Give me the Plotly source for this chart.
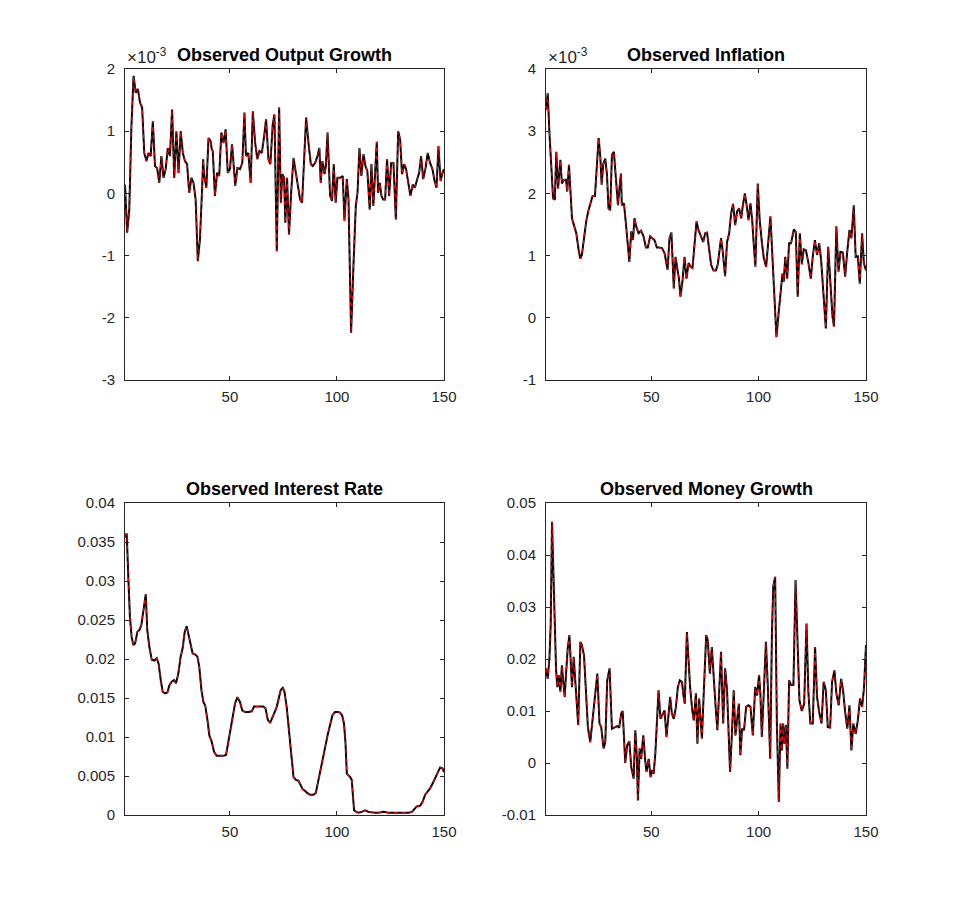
import plotly.graph_objects as go

# values; x is the period (1..150)

# Observed Output Growth, in units of 1e-3
output_x = [1, 1.5, 2, 3, 4, 5, 6, 7, 8, 9,
            10, 11, 12, 13, 14, 15, 16, 17, 18, 19, 20,
            21, 22, 23, 24, 25, 26, 27, 28, 29, 30,
            31, 32, 33, 34, 35, 36, 37, 37.5, 38, 39, 40, 41, 41.5,
            42, 43, 44, 45, 46, 47, 48, 49,
            50, 51, 52.5, 53.5, 54.7, 55.8, 56.8, 57.5, 58.6, 59.7,
            60.7, 61.8, 62.8, 63.8, 64.9, 66, 66.9, 68, 68.9, 70,
            70.8, 71.9, 73, 73.8, 74.5, 75.3, 75.9, 76.7, 77.6, 78.6,
            79.7, 80.8, 81.7, 82.8, 83.7, 84.6, 85.6, 86.7, 87.8, 88.7,
            89.8, 90.9, 91.8, 92.4, 93.2, 94.2, 94.8, 95.6, 96.2, 96.8,
            97.7, 98.5, 99.4, 100.2,
            101.5, 102.7, 103.5, 104.6, 105.4, 106.6, 107.7, 108.8, 109.6, 110.5,
            111.4, 112.4, 113.3, 114.2, 115.3, 116.1, 117, 117.8, 118.6, 119.2,
            120, 120.8, 121.6, 122.5, 123.4, 124.4, 125.3, 126.4, 127.5, 128.6,
            129.5, 130.4, 131.4, 132.3, 133.4, 134.3, 135.4, 136.4, 137.5, 138.4,
            139.3, 140.3, 141.4, 142.4, 143.5, 144.6, 145.6, 146.5, 147.4, 148.4,
            149.3, 150]
output_y = [0.14, -0.31, -0.63, -0.26, 1.08, 1.89, 1.62, 1.68, 1.46, 1.38,
            0.65, 0.52, 0.65, 0.60, 1.16, 0.44, 0.41, 0.17, 0.60, 0.25, 0.39,
            0.73, 0.60, 1.35, 0.25, 1.00, 0.33, 1.00, 0.65, 0.52, 0.47,
            0.01, 0.25, 0.17, -0.10, -1.09, -0.74, 0.06, 0.55, 0.28, 0.09, 0.89, 0.84, 0.71,
            0.68, -0.04, 0.33, 0.28, 0.98, 0.81, 1.03, 0.33,
            0.39, 0.79, 0.12, 0.41, 0.39, 0.49, 1.30, 0.60, 0.65, 0.17,
            1.32, 0.81, 0.55, 0.68, 0.65, 0.92, 1.19, 0.55, 0.47, 1.11,
            1.27, -0.93, 1.38, -0.15, 0.31, 0.25, -0.47, 0.25, -0.66, 0.01,
            0.57, 0.33, 0.12, -0.10, -0.15, 0.60, 1.22, 0.81, 0.47, 0.44,
            0.49, 0.60, 0.73, 0.17, 0.52, 0.31, 0.44, 0.98, 0.44, -0.04,
            -0.12, 0.47, -0.15, 0.25,
            0.25, 0.28, -0.44, 0.23, -0.10, -2.24, -1.17, -0.20, 0.01, 0.73,
            0.28, 0.63, 0.44, 0.36, -0.26, 0.47, -0.20, 0.23, 0.83, 0.01,
            0.17, -0.04, -0.10, -0.10, 0.55, -0.04, 0.49, 0.49, -0.42, 1.00,
            0.87, 0.31, 0.47, 0.39, 0.12, -0.04, 0.14, 0.09, 0.23, 0.33,
            0.60, 0.23, 0.41, 0.65, 0.49, 0.39, 0.20, 0.09, 0.76, 0.20,
            0.33, 0.39]

# Observed Inflation, in units of 1e-3
inflation_x = [1, 1.8, 2.6, 3.5, 4.3, 5.1, 5.8, 6.6, 7.7, 8.4,
               9.4, 10.3, 10.9, 11.7, 12.3, 13.1, 14, 15.1, 16.2, 17,
               17.7, 18.7, 19.8, 20.8, 21.8, 22.7, 23.8, 24.6, 25.5, 26.3,
               26.9, 27.7, 28.6, 29.4, 30.1, 30.9, 31.7, 32.6, 33.6, 34.5,
               35.1, 35.9, 36.3, 37.3, 38.2, 39, 39.8, 40.7, 41.5, 42.2,
               43, 44.1, 45.3, 46.4, 47.5, 48.4, 49.5,
               51.5, 52.6, 53.7, 55, 56.2, 57.6, 58.5, 59.4, 60.5, 61.3,
               62.1, 62.9, 63.6, 64.6, 65.5, 66.4, 67.4, 68.3, 69.2, 70.1,
               71.1, 72, 73.1, 74.2, 75.1, 76, 77, 77.9, 79, 80.1,
               81, 81.8, 82.5, 83.3, 84.4, 85.3, 86.3, 87.2, 88.1, 89.1,
               90, 90.9, 91.9, 92.6, 93.6, 94.5, 95.3, 96.2, 97, 97.7,
               98.5, 99.6, 100.5,
               101.5, 102.4, 103.5, 104.6, 105.5, 106.5, 107.4, 108.3, 109.3, 110.2,
               111.1, 111.7, 112.4, 113.3, 114.2, 115.1, 116.4, 117.3, 118.2, 119.2,
               120.1, 121, 122, 123.2, 124.3, 125.2, 126.2, 127.2, 128.2, 129.1,
               130.2, 131.3, 132.4, 133.4, 134.4, 135.1, 136.2, 137.2, 138.1, 139.2,
               140.3, 141.2, 142.3, 143.2, 144.3, 145.2, 146.2, 147.1, 148.2, 149,
               150]
inflation_y = [3.34, 3.61, 2.97, 2.38, 1.92, 1.90, 2.67, 2.08, 2.54, 2.16,
               2.22, 2.22, 2.03, 2.46, 2.11, 1.60, 1.49, 1.36, 1.09, 0.95,
               1.01, 1.31, 1.57, 1.73, 1.87, 1.96, 1.96, 2.38, 2.89, 2.59,
               2.14, 2.48, 2.56, 2.30, 1.76, 1.73, 2.62, 2.67, 2.22, 1.81,
               2.05, 2.32, 1.81, 1.84, 1.52, 1.25, 0.90, 1.39, 1.25, 1.60,
               1.47, 1.36, 1.40, 1.31, 1.13, 1.13, 1.31,
               1.25, 1.13, 1.13, 1.12, 1.04, 0.77, 1.28, 1.37, 0.47, 0.98,
               0.80, 0.63, 0.34, 0.61, 0.98, 0.63, 0.88, 0.82, 0.80, 1.22,
               1.55, 1.41, 1.30, 1.22, 1.36, 1.37, 1.09, 0.85, 0.76, 0.76,
               0.86, 1.09, 1.28, 1.06, 0.67, 1.22, 1.36, 1.68, 1.83, 1.49,
               1.71, 1.76, 1.60, 1.79, 2.00, 1.79, 1.57, 1.84, 1.57, 1.20,
               0.82, 2.16, 1.57,
               1.22, 0.96, 0.82, 1.36, 1.63, 0.93, 0.23, -0.31, 0.07, 0.45,
               0.71, 0.58, 0.98, 0.63, 1.20, 1.20, 1.42, 1.38, 0.34, 1.36,
               0.86, 1.10, 1.09, 0.88, 0.63, 0.98, 1.25, 1.01, 1.20, 0.93,
               0.39, -0.17, 1.14, 0.55, 0.02, -0.14, 1.47, 0.74, 1.06, 1.05,
               0.66, 1.04, 1.41, 1.28, 1.81, 0.98, 0.99, 0.55, 1.36, 0.88,
               0.76]

# Observed Interest Rate
interest_x = [1, 1.8, 2.6, 3.3, 4.1, 4.9, 5.7, 6.8, 7.7, 8.6,
              9.6, 10.7, 11.4, 12.4, 13.5, 14.7, 15.8, 16.7, 17.7, 18.6,
              19.7, 20.8, 21.7, 22.8, 23.9, 24.8, 25.9, 27, 28, 28.9,
              29.8, 30.8, 31.7, 32.6, 33.7, 34.8, 35.7, 36.7, 37.6, 38.5,
              39.5, 40.4, 41.5, 42.6, 43.8, 45.4, 47, 48.2, 49.3,
              50.4, 51.3, 52.4, 53.5, 54.7, 55.8, 57.1, 58.6, 60.2, 61.3,
              62.5, 64.1, 65.6, 66.6, 67.7, 68.8, 69.8, 70.9, 71.9, 72.8,
              73.7, 74.7, 75.5, 76.5, 77.6, 78.6, 79.7, 80.8, 82, 83.1,
              84, 85.1, 86.2, 87.5, 89, 90.1, 91, 92.1, 93.4, 94.5,
              95.6, 96.8, 97.9, 99.1, 100.7,
              101.5, 102.4, 103.3, 104, 104.6, 105.4, 106.1, 106.9, 107.4, 108,
              109, 110, 111.6, 113.2, 114.7, 116.3, 117.8, 119.4, 121.7, 124.1,
              126.4, 128.7, 131.1, 133.4, 135, 136.1, 137.3, 138.9, 140, 141.2,
              142.3, 143.5, 144.8, 145.9, 146.9, 148.2, 149.3, 150]
interest_y = [0.0356, 0.0361, 0.0301, 0.0254, 0.0228, 0.0218, 0.0220, 0.0235, 0.0237, 0.0243,
              0.0262, 0.0283, 0.0237, 0.0215, 0.0199, 0.0198, 0.0201, 0.0194, 0.0173, 0.0158,
              0.0156, 0.0157, 0.0166, 0.0171, 0.0173, 0.0169, 0.0181, 0.0203, 0.0215, 0.0235,
              0.0242, 0.0228, 0.0215, 0.0207, 0.0206, 0.0203, 0.0190, 0.0160, 0.0145, 0.0140,
              0.0122, 0.0102, 0.0094, 0.0081, 0.0076, 0.0076, 0.0076, 0.0077, 0.0094,
              0.0109, 0.0126, 0.0143, 0.0151, 0.0145, 0.0134, 0.0132, 0.0132, 0.0133, 0.0139,
              0.0139, 0.0139, 0.0139, 0.0137, 0.0122, 0.0118, 0.0126, 0.0132, 0.0139, 0.0149,
              0.0160, 0.0163, 0.0158, 0.0139, 0.0109, 0.0079, 0.0049, 0.0045, 0.0044, 0.0038,
              0.0033, 0.0031, 0.0028, 0.0026, 0.0026, 0.0028, 0.0041, 0.0055, 0.0073, 0.0087,
              0.0102, 0.0117, 0.0128, 0.0132, 0.0132,
              0.0131, 0.0128, 0.0117, 0.0092, 0.0053, 0.0051, 0.0049, 0.0045, 0.0019, 0.0006,
              0.0004, 0.0003, 0.0004, 0.0006, 0.0004, 0.0003, 0.0003, 0.0003, 0.0004, 0.0003,
              0.0003, 0.0003, 0.0003, 0.0003, 0.0004, 0.0007, 0.0011, 0.0012, 0.0017, 0.0026,
              0.0030, 0.0034, 0.0041, 0.0048, 0.0055, 0.0061, 0.0060, 0.0055]

# Observed Money Growth
money_x = [1, 1.8, 2.6, 3.2, 3.8, 4.4, 5, 5.7, 6.3, 6.9,
           7.7, 8.4, 9.1, 9.7, 10.3, 11.1, 11.9, 12.5, 13.1, 13.9,
           14.6, 15.4, 16, 17, 17.7, 18.7, 19.6, 20.5, 21.6, 22.7,
           23.9, 24.9, 25.9, 26.7, 27.8, 28.6, 29.5, 30.6, 31.7, 32.9,
           34.2, 35.1, 36, 36.7, 37.3, 37.9, 38.8, 39.8, 40.7, 41.8,
           42.6, 43.3, 43.8, 44.6, 45.3, 46.3, 47.2, 47.8, 48.8, 49.7,
           50.3, 51.1, 51.9, 52.6, 53.4, 54.3, 55.3, 56.2, 57.1, 58.1,
           58.8, 59.6, 60.5, 61.5, 62.4, 63.3, 64.3, 65, 65.6, 66.6,
           67.4, 68.1, 69.1, 69.8, 70.8, 71.5, 72.3, 72.9, 73.6, 74.5,
           75.6, 76.3, 77.3, 78.2, 79.1, 80.1, 80.8, 81.8, 82.5, 83.5,
           84.4, 85.3, 86, 86.7, 87.5, 88.4, 89.2, 90, 90.8, 91.5,
           92.3, 93.2, 94.2, 95.3, 96.2, 97.3, 98.4, 99.3, 100.2, 100.8,
           101.5, 102.4, 103.4, 104.3, 105.4, 106.2, 106.8, 107.7, 108.5, 109.4,
           110.2, 110.8, 111.4, 112, 112.7, 113.4, 114.2, 115.1, 116.2, 117.2,
           118.1, 119, 120.1, 121.2, 122.3, 123.2, 124.1, 125.2, 126.3, 127.2,
           128.2, 129.3, 130.3, 131.3, 132.2, 133.3, 134.2, 135.3, 136.2, 137.3,
           138.4, 139.3, 140.3, 141.3, 142.3, 143.2, 144.1, 145.2, 146.2, 147.2,
           148.2, 149.1, 150]
money_y = [0.0182, 0.0162, 0.0201, 0.0268, 0.0464, 0.0365, 0.0255, 0.0178, 0.0146, 0.0169,
           0.0137, 0.0188, 0.0153, 0.0127, 0.0169, 0.0220, 0.0246, 0.0194, 0.0146, 0.0204,
           0.0159, 0.0114, 0.0073, 0.0233, 0.0227, 0.0207, 0.0127, 0.0069, 0.0040, 0.0089,
           0.0127, 0.0172, 0.0076, 0.0069, 0.0028, 0.0040, 0.0159, 0.0182, 0.0066, 0.0069,
           0.0071, 0.0068, 0.0095, 0.0100, 0.0050, 0.0000, 0.0034, 0.0042, -0.0008, -0.0030,
           0.0063, 0.0012, -0.0072, 0.0028, 0.0008, 0.0053, 0.0005, -0.0017, 0.0008, -0.0027,
           -0.0014, -0.0021, 0.0018, 0.0089, 0.0140, 0.0085, 0.0095, 0.0101, 0.0050, 0.0101,
           0.0127, 0.0095, 0.0085, 0.0108, 0.0146, 0.0159, 0.0156, 0.0130, 0.0114, 0.0252,
           0.0191, 0.0146, 0.0101, 0.0082, 0.0134, 0.0037, 0.0124, 0.0089, 0.0047, 0.0140,
           0.0246, 0.0236, 0.0172, 0.0223, 0.0153, 0.0101, 0.0063, 0.0140, 0.0214, 0.0076,
           0.0182, 0.0140, 0.0037, -0.0017, 0.0050, 0.0140, 0.0053, 0.0089, 0.0114, 0.0015,
           0.0066, 0.0063, 0.0108, 0.0111, 0.0108, 0.0053, 0.0146, 0.0130, 0.0169, 0.0134,
           0.0050, 0.0134, 0.0233, 0.0146, 0.0008, 0.0249, 0.0339, 0.0358, 0.0076, -0.0075,
           0.0076, 0.0024, 0.0076, 0.0037, 0.0073, -0.0011, 0.0159, 0.0150, 0.0150, 0.0352,
           0.0255, 0.0121, 0.0100, 0.0114, 0.0268, 0.0134, 0.0076, 0.0076, 0.0223, 0.0127,
           0.0098, 0.0076, 0.0156, 0.0140, 0.0069, 0.0068, 0.0156, 0.0178, 0.0134, 0.0111,
           0.0162, 0.0140, 0.0098, 0.0066, 0.0111, 0.0024, 0.0076, 0.0056, 0.0082, 0.0124,
           0.0108, 0.0146, 0.0227]

x_ticks = [50, 100, 150]
output_ticks = [-3, -2, -1, 0, 1, 2]
inflation_ticks = [-1, 0, 1, 2, 3, 4]
interest_ticks = [0, 0.005, 0.01, 0.015, 0.02, 0.025, 0.03, 0.035, 0.04]
money_ticks = [-0.01, 0, 0.01, 0.02, 0.03, 0.04, 0.05]

W, H = 958, 916
PAGE_PAD = 8  # the html body adds an 8px margin round the plot div
AX = '#262626'
FONT = 'Liberation Sans, Arial, Helvetica, sans-serif'


def px_x(v):
    return (v - PAGE_PAD) / W


def px_y(v):
    return 1 - (v - PAGE_PAD) / H


panels = [
    # title, x, y, ticks, pixel box (left, right, top, bottom), exponent label
    ('Observed Output Growth', output_x, output_y, output_ticks, (125, 444, 69, 380), True),
    ('Observed Inflation', inflation_x, inflation_y, inflation_ticks, (546, 866, 69, 380), True),
    ('Observed Interest Rate', interest_x, interest_y, interest_ticks, (125, 444, 503, 815), False),
    ('Observed Money Growth', money_x, money_y, money_ticks, (546, 866, 503, 815), False),
]

fig = go.Figure()
annotations = []

for i, (title, xs, ys, ticks, box, expo) in enumerate(panels, start=1):
    left, right, top, bottom = box
    xa = 'x' if i == 1 else f'x{i}'
    ya = 'y' if i == 1 else f'y{i}'

    fig.add_trace(go.Scatter(x=xs, y=ys, mode='lines', xaxis=xa, yaxis=ya,
                             line=dict(color='black', width=2), hoverinfo='skip'))
    fig.add_trace(go.Scatter(x=xs, y=ys, mode='lines', xaxis=xa, yaxis=ya,
                             line=dict(color='red', width=1.1, dash='4px,4px'), hoverinfo='skip'))

    common = dict(showline=True, linecolor=AX, linewidth=1, mirror='ticks',
                  ticks='inside', ticklen=4, tickcolor=AX, tickwidth=1,
                  showgrid=False, zeroline=False, automargin=False,
                  tickfont=dict(family=FONT, size=15, color=AX))
    fig.update_layout(**{
        ('xaxis' if i == 1 else f'xaxis{i}'): dict(
            domain=[px_x(left), px_x(right)], anchor=ya, range=[1, 150],
            tickvals=x_ticks, ticktext=[str(t) for t in x_ticks],
            ticklabelstandoff=3, **common),
        ('yaxis' if i == 1 else f'yaxis{i}'): dict(
            domain=[px_y(bottom), px_y(top)], anchor=xa,
            range=[ticks[0], ticks[-1]],
            tickvals=ticks, ticktext=[f'{t:g}' for t in ticks],
            ticklabelstandoff=6, **common),
    })

    annotations.append(dict(
        text=f'<b>{title}</b>', xref='paper', yref='paper',
        x=px_x((left + right) / 2), y=px_y(top), xanchor='center', yanchor='bottom',
        yshift=2, showarrow=False, font=dict(family=FONT, size=18, color='black')))
    if expo:
        annotations.append(dict(
            text='×10<sup>-3</sup>', xref='paper', yref='paper',
            x=px_x(left), y=px_y(top), xanchor='left', yanchor='bottom',
            yshift=0, showarrow=False, font=dict(family=FONT, size=17, color=AX)))

fig.update_layout(
    width=W, height=H,
    margin=dict(l=0, r=0, t=0, b=0, autoexpand=False),
    paper_bgcolor='white', plot_bgcolor='white',
    showlegend=False,
    annotations=annotations,
)

fig.write_html("out.html")
